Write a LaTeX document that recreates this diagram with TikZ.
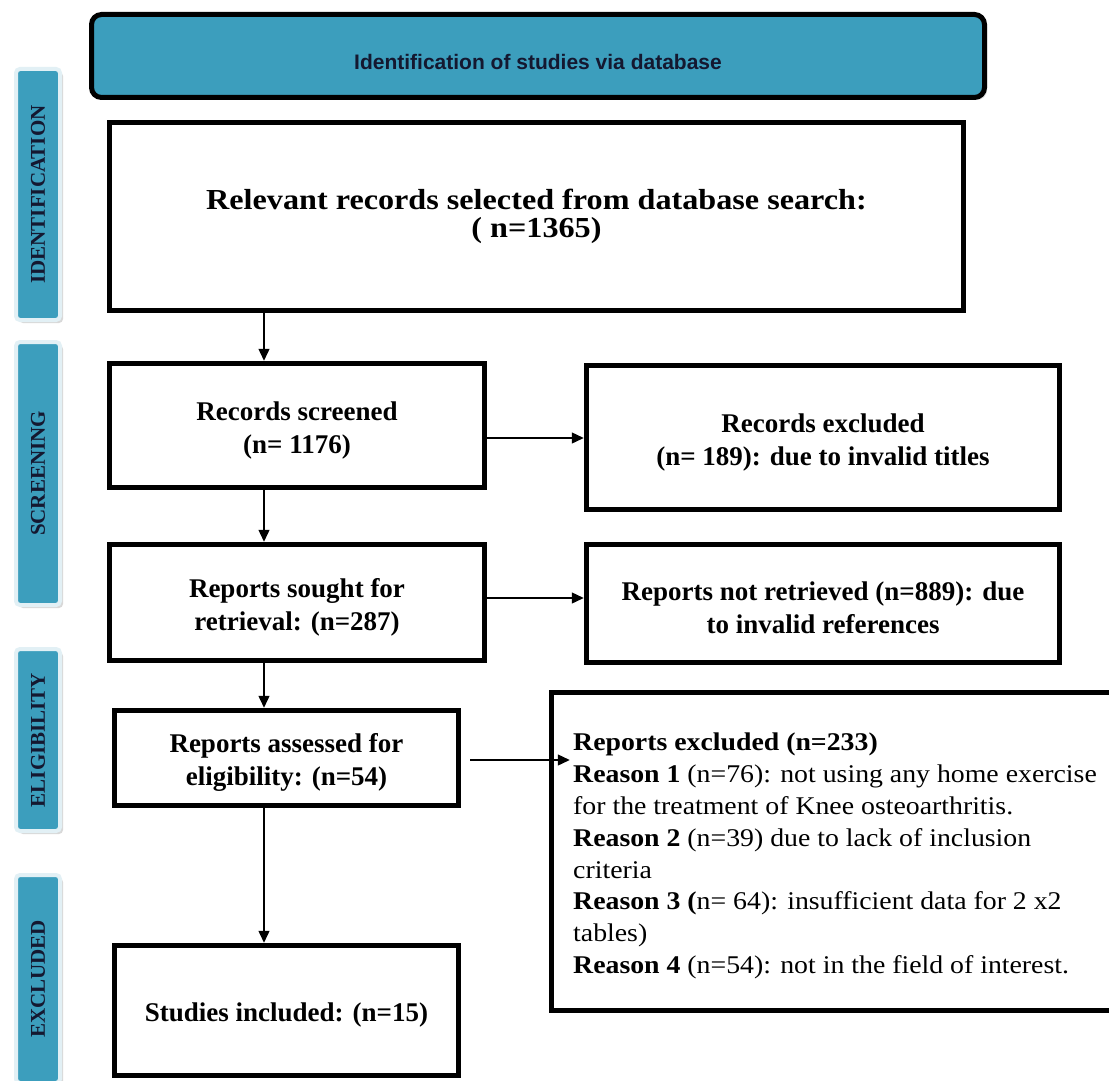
\documentclass[tikz,border=0pt]{standalone}
\usepackage{fontspec}
\setmainfont{Liberation Serif}
\newfontfamily\bannerfont{Liberation Sans}
\newfontfamily\wideA[FakeStretch=1.11]{Liberation Serif}
\newfontfamily\wideB[FakeStretch=1.09]{Liberation Serif}
\usetikzlibrary{arrows.meta,shadows}
\definecolor{tabblue}{RGB}{60,158,189}
\definecolor{tabedge}{RGB}{226,240,245}
\definecolor{tabtext}{RGB}{20,24,48}
\newcommand\mylowstrut{\rule{0pt}{28pt}}
\begin{document}
\begin{tikzpicture}[x=1pt,y=-1pt,
  box/.style={draw, line width=5.5pt, fill=white, inner sep=0pt, align=center,
    font=\fontsize{27}{33}\selectfont\bfseries,
    drop shadow={shadow xshift=2.5pt, shadow yshift=-2.5pt, opacity=0.3}},
  tabbox/.style={fill=tabblue, draw=tabedge, line width=4pt, rounded corners=4pt,
    minimum width=44pt, inner sep=0pt,
    drop shadow={shadow xshift=3pt, shadow yshift=-3pt, opacity=0.3}},
  tablabel/.style={rotate=90, inner sep=0pt, text=tabtext,
    font=\fontsize{21}{25}\selectfont\bfseries},
  arr/.style={draw, line width=1.4pt, -{Triangle[length=12pt,width=11pt]}}
]
\fill[white] (0,0) rectangle (1109,1081);
\useasboundingbox (0,0) rectangle (1109,1081);

% side tabs
\node (tabI) [tabbox, minimum height=251pt] at (38,194.5) {};
\node (tabIt) [tablabel] at (tabI.center) {IDENTIFICATION};
\node (tabS) [tabbox, minimum height=263pt] at (38,473.5) {};
\node (tabSt) [tablabel] at (tabS.center) {SCREENING};
\node (tabE) [tabbox, minimum height=182pt] at (38,740) {};
\node (tabEt) [tablabel] at (tabE.center) {ELIGIBILITY};
\node (tabX) [tabbox, minimum height=208pt] at (38,979) {};
\node (tabXt) [tablabel] at (tabX.center) {EXCLUDED};

% banner
\node (banner) [draw, line width=5pt, fill=tabblue, rounded corners=10pt,
  minimum width=893pt, minimum height=83pt, inner sep=0pt,
  text height=27pt, text depth=0pt, text=tabtext,
  font=\bannerfont\bfseries\fontsize{21}{25}\selectfont,
  drop shadow={shadow xshift=2.5pt, shadow yshift=-2.5pt, opacity=0.3}]
  at (538,56) {Identification of studies via database};

% boxes
\node (rel) [box, minimum width=854pt, minimum height=188pt,
  font=\wideA\bfseries\fontsize{29}{28}\selectfont]
  at (536.5,216.5) {Relevant records selected from database search:\\( n=1365)};
\node (scr) [box, minimum width=375pt, minimum height=124pt]
  at (297,425.5) {\mylowstrut Records screened\\(n= 1176)};
\node (excl1) [box, minimum width=473pt, minimum height=144pt]
  at (823,437.5) {\mylowstrut Records excluded\\(n= 189): due to invalid titles};
\node (sought) [box, minimum width=375pt, minimum height=116pt]
  at (297,602.5) {\mylowstrut Reports sought for\\retrieval: (n=287)};
\node (notret) [box, minimum width=473pt, minimum height=118pt]
  at (823,603.5) {\mylowstrut Reports not retrieved (n=889): due\\to invalid references};
\node (assessed) [box, minimum width=344pt, minimum height=95pt]
  at (286.5,758) {\mylowstrut Reports assessed for\\eligibility: (n=54)};
\node (included) [box, minimum width=344pt, minimum height=130pt]
  at (286.5,1010.5) {\mylowstrut Studies included: (n=15)};
\node (repx) [box, minimum width=576pt, minimum height=318pt]
  at (839.5,851.5) {};
\node (repxt) [anchor=west, align=left, inner sep=0pt,
  font=\wideB\fontsize{25.5}{31.9}\selectfont] at (573,856)
  {\textbf{Reports excluded (n=233)}\\
   \textbf{Reason 1} (n=76): not using any home exercise\\
   for the treatment of Knee osteoarthritis.\\
   \textbf{Reason 2} (n=39) due to lack of inclusion\\
   criteria\\
   \textbf{Reason 3 (}n= 64): insufficient data for 2 x2\\
   tables)\\
   \textbf{Reason 4} (n=54): not in the field of interest.};

% connectors
\coordinate (vx) at (264,0);
\coordinate (h1) at (0,438);
\coordinate (h2) at (0,598);
\coordinate (h3) at (0,760);
\draw[arr] (rel.south -| vx) -- (scr.north -| vx);
\draw[arr] (scr.south -| vx) -- (sought.north -| vx);
\draw[arr] (sought.south -| vx) -- (assessed.north -| vx);
\draw[arr] (assessed.south -| vx) -- (included.north -| vx);
\draw[arr] (scr.east |- h1) -- (excl1.west |- h1);
\draw[arr] (sought.east |- h2) -- (notret.west |- h2);
\draw[arr] ([xshift=9pt]assessed.east |- h3) -- ([xshift=21pt]repx.west |- h3);
\end{tikzpicture}
\end{document}
